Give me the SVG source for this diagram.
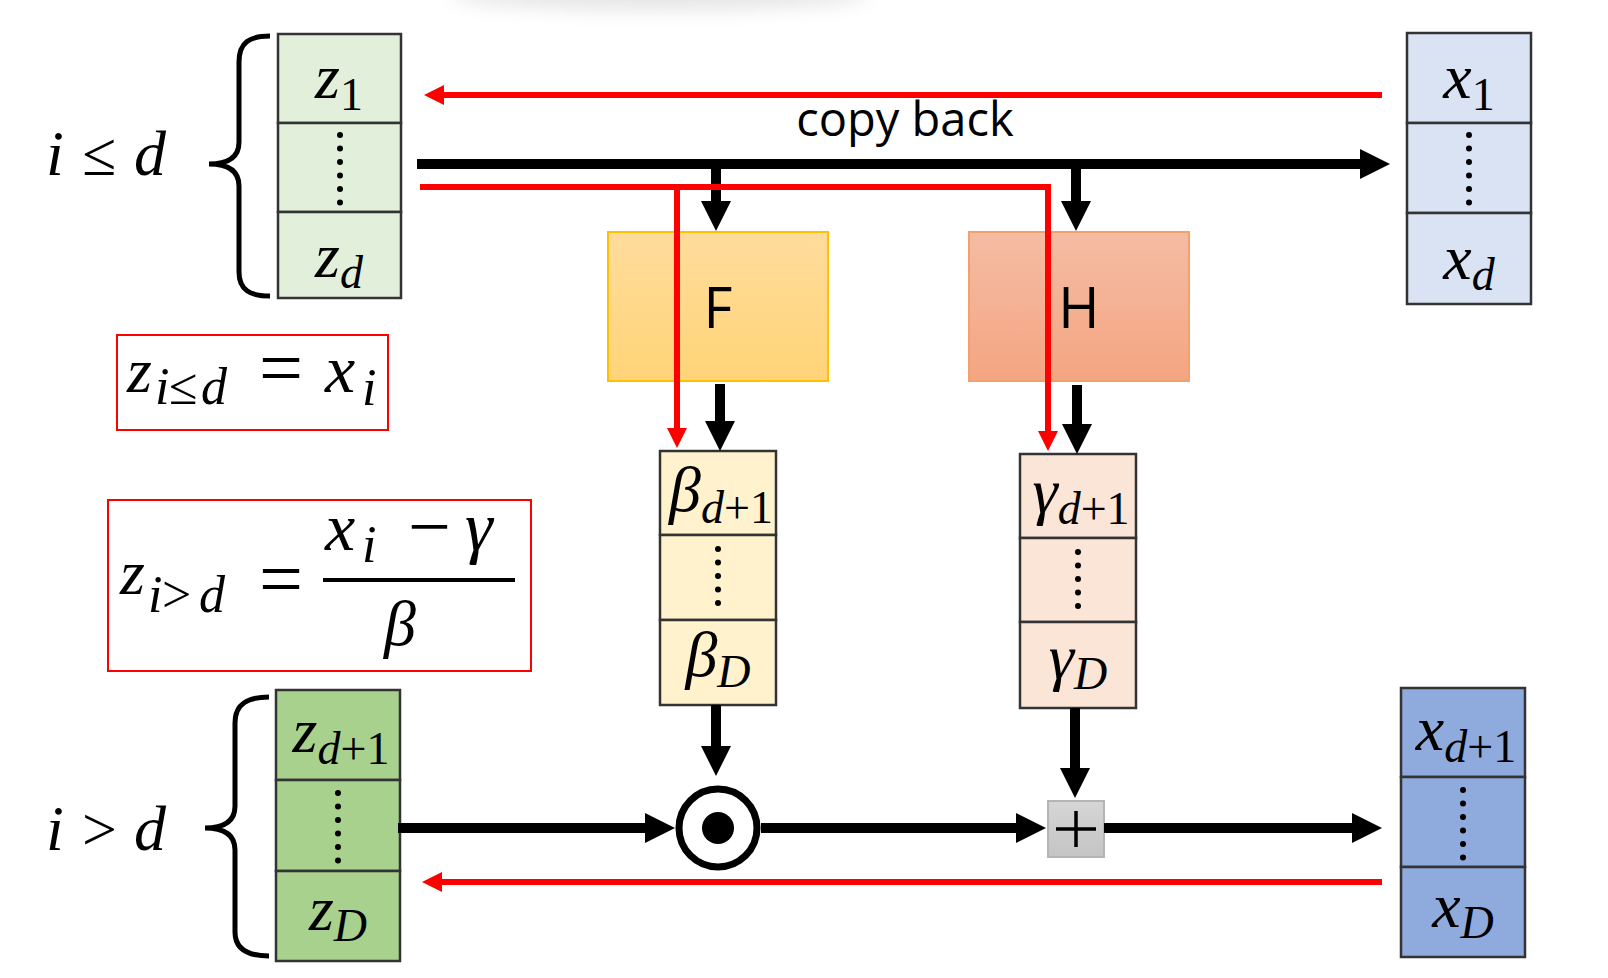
<svg xmlns="http://www.w3.org/2000/svg" width="1608" height="978" viewBox="0 0 1608 978">
<defs>
<style>
.cell{stroke:#333;stroke-width:2.5}
.m{font-family:"Liberation Serif",serif;font-style:italic;font-size:64px;fill:#000}
.s{font-size:46px}
.e{font-size:52px}
.up{font-style:normal}
.blk{stroke:#000;stroke-width:10;fill:none}
.red{stroke:#f00;stroke-width:6;fill:none}
.dots{stroke:#000;stroke-width:6;stroke-linecap:round;stroke-dasharray:0 13.5;fill:none}
.lbl{font-family:"Open Sans",sans-serif;fill:#000}
.brace{fill:none;stroke:#000;stroke-width:5}
.frame{fill:#fff;stroke:#f00;stroke-width:2}
</style>
<linearGradient id="gF" x1="0" y1="0" x2="0" y2="1"><stop offset="0" stop-color="#FFDC9C"/><stop offset="1" stop-color="#FFD478"/></linearGradient>
<linearGradient id="gH" x1="0" y1="0" x2="0" y2="1"><stop offset="0" stop-color="#F5BCA3"/><stop offset="1" stop-color="#F4A582"/></linearGradient>
<linearGradient id="gP" x1="0" y1="0" x2="0" y2="1"><stop offset="0" stop-color="#D6D6D6"/><stop offset="1" stop-color="#C4C4C4"/></linearGradient>
<filter id="blur" x="-50%" y="-50%" width="200%" height="200%"><feGaussianBlur stdDeviation="10"/></filter>
<marker id="ab" markerUnits="userSpaceOnUse" markerWidth="30" markerHeight="30" refX="5" refY="15" orient="auto"><path d="M0,0 L30,15 L0,30 z" fill="#000"/></marker>
<marker id="ar" markerUnits="userSpaceOnUse" markerWidth="20" markerHeight="20" refX="4" refY="10" orient="auto"><path d="M0,0 L20,10 L0,20 z" fill="#f00"/></marker>
</defs>
<rect width="1608" height="978" fill="#fff"/>
<ellipse cx="660" cy="-6" rx="210" ry="16" fill="#000" opacity="0.10" filter="url(#blur)"/>

<g id="brace-upper">
<path class="brace" d="M270,36 C250,36 239,42 239,62 L239,142 C239,157 228,164 209,164 C228,164 239,171 239,186 L239,272 C239,290 250,296 270,296"/>
<text class="m" y="175" font-size="52"><tspan x="46">i</tspan><tspan class="up" x="82" font-size="62">≤</tspan><tspan x="134">d</tspan></text>
</g>

<g id="z-upper">
<rect class="cell" x="278" y="34" width="123" height="89" fill="#E2EFDA"/>
<rect class="cell" x="278" y="123" width="123" height="89" fill="#E2EFDA"/>
<rect class="cell" x="278" y="212" width="123" height="86" fill="#E2EFDA"/>
<text class="m" x="339" y="98" text-anchor="middle">z<tspan class="s up" dy="12">1</tspan></text>
<line class="dots" x1="340" y1="135" x2="340" y2="203"/>
<text class="m" x="339" y="277" text-anchor="middle">z<tspan class="s" dy="11">d</tspan></text>
</g>

<g id="x-upper">
<rect class="cell" x="1407" y="33" width="124" height="90" fill="#DAE3F3"/>
<rect class="cell" x="1407" y="123" width="124" height="90" fill="#DAE3F3"/>
<rect class="cell" x="1407" y="213" width="124" height="91" fill="#DAE3F3"/>
<text class="m" x="1469" y="98" text-anchor="middle">x<tspan class="s up" dy="12">1</tspan></text>
<line class="dots" x1="1469" y1="135" x2="1469" y2="203"/>
<text class="m" x="1469" y="279" text-anchor="middle">x<tspan class="s" dy="11">d</tspan></text>
</g>

<g id="eq1">
<rect class="frame" x="117" y="335" width="271" height="95"/>
<text class="m"><tspan x="127" y="392">z</tspan><tspan class="e" x="155" y="404">i</tspan><tspan class="e up" x="169" y="404" font-size="56">≤</tspan><tspan class="e" x="201" y="404">d</tspan><tspan class="up" x="259" y="394" font-size="78">=</tspan><tspan x="325" y="392" font-size="68">x</tspan><tspan class="e" x="362" y="405">i</tspan></text>
</g>

<g id="eq2">
<rect class="frame" x="108" y="500" width="423" height="171"/>
<text class="m"><tspan x="120" y="594">z</tspan><tspan class="e" x="148" y="612">i</tspan><tspan class="e up" x="162" y="612" font-size="58">&gt;</tspan><tspan class="e" x="199" y="612">d</tspan><tspan class="up" x="259" y="605" font-size="78">=</tspan><tspan x="325" y="550" font-size="68">x</tspan><tspan class="e" x="362" y="562">i</tspan><tspan class="up" x="408" y="552" font-size="76">−</tspan><tspan x="465" y="550" font-size="70">γ</tspan></text>
<line x1="323" y1="580" x2="515" y2="580" stroke="#000" stroke-width="4"/>
<text class="m" x="400" y="645" text-anchor="middle" font-size="70">β</text>
</g>

<g id="F">
<rect x="608" y="232" width="220" height="149" fill="url(#gF)" stroke="#FFC000" stroke-width="2"/>
<text class="lbl" x="718" y="328" font-size="56" text-anchor="middle">F</text>
</g>

<g id="H">
<rect x="969" y="232" width="220" height="149" fill="url(#gH)" stroke="#F4A06A" stroke-width="2"/>
<text class="lbl" x="1079" y="328" font-size="56" text-anchor="middle">H</text>
</g>

<g id="beta">
<rect class="cell" x="660" y="451" width="116" height="84" fill="#FFF2CC"/>
<rect class="cell" x="660" y="535" width="116" height="85" fill="#FFF2CC"/>
<rect class="cell" x="660" y="620" width="116" height="85" fill="#FFF2CC"/>
<text class="m" x="721" y="511" text-anchor="middle">β<tspan class="s" dy="12">d<tspan class="up">+1</tspan></tspan></text>
<line class="dots" x1="718" y1="549" x2="718" y2="611"/>
<text class="m" x="718" y="676" text-anchor="middle">β<tspan class="s" dy="11">D</tspan></text>
</g>

<g id="gamma">
<rect class="cell" x="1020" y="454" width="116" height="84" fill="#FBE5D6"/>
<rect class="cell" x="1020" y="538" width="116" height="84" fill="#FBE5D6"/>
<rect class="cell" x="1020" y="622" width="116" height="86" fill="#FBE5D6"/>
<text class="m" x="1081" y="512" text-anchor="middle">γ<tspan class="s" dy="12">d<tspan class="up">+1</tspan></tspan></text>
<line class="dots" x1="1078" y1="552" x2="1078" y2="614"/>
<text class="m" x="1078" y="678" text-anchor="middle">γ<tspan class="s" dy="11">D</tspan></text>
</g>

<g id="brace-lower">
<path class="brace" d="M269,697 C249,697 235,703 235,723 L235,806 C235,821 224,828 205,828 C224,828 235,835 235,850 L235,932 C235,950 249,956 269,956"/>
<text class="m" y="850" font-size="52"><tspan x="46">i</tspan><tspan class="up" x="82" font-size="62">&gt;</tspan><tspan x="134">d</tspan></text>
</g>

<g id="z-lower">
<rect class="cell" x="276" y="690" width="124" height="90" fill="#A9D18E"/>
<rect class="cell" x="276" y="780" width="124" height="91" fill="#A9D18E"/>
<rect class="cell" x="276" y="871" width="124" height="90" fill="#A9D18E"/>
<text class="m" x="341" y="752" text-anchor="middle">z<tspan class="s" dy="12">d<tspan class="up">+1</tspan></tspan></text>
<line class="dots" x1="338" y1="793" x2="338" y2="861"/>
<text class="m" x="338" y="930" text-anchor="middle">z<tspan class="s" dy="11">D</tspan></text>
</g>

<g id="x-lower">
<rect class="cell" x="1401" y="688" width="124" height="89" fill="#8FAADC"/>
<rect class="cell" x="1401" y="777" width="124" height="90" fill="#8FAADC"/>
<rect class="cell" x="1401" y="867" width="124" height="90" fill="#8FAADC"/>
<text class="m" x="1466" y="750" text-anchor="middle">x<tspan class="s" dy="12">d<tspan class="up">+1</tspan></tspan></text>
<line class="dots" x1="1463" y1="790" x2="1463" y2="858"/>
<text class="m" x="1463" y="927" text-anchor="middle">x<tspan class="s" dy="11">D</tspan></text>
</g>

<g id="odot">
<circle cx="718" cy="828" r="39" fill="#fff" stroke="#000" stroke-width="7"/>
<circle cx="718" cy="828" r="16" fill="#000"/>
</g>

<g id="plus">
<rect x="1048" y="801" width="56" height="56" fill="url(#gP)" stroke="#B5B5B5" stroke-width="2"/>
<path d="M1076,811 V847 M1056,829 H1096" stroke="#000" stroke-width="3.5" fill="none"/>
</g>

<g id="copy-back">
<text class="lbl" x="905" y="136" font-size="47" text-anchor="middle">copy back</text>
</g>

<g id="connectors">
<path class="red" d="M1382,95 H440" marker-end="url(#ar)"/>
<path class="blk" d="M417,164 H1365" marker-end="url(#ab)"/>
<path class="blk" d="M716,164 V206" marker-end="url(#ab)"/>
<path class="blk" d="M1076,164 V206" marker-end="url(#ab)"/>
<path class="red" d="M420,187 H1048 V435" marker-end="url(#ar)"/>
<path class="red" d="M677,187 V432" marker-end="url(#ar)"/>
<path class="blk" d="M720,384 V426" marker-end="url(#ab)"/>
<path class="blk" d="M1077,385 V429" marker-end="url(#ab)"/>
<path class="blk" d="M716,705 V751" marker-end="url(#ab)"/>
<path class="blk" d="M1075,708 V773" marker-end="url(#ab)"/>
<path class="blk" d="M398,828 H650" marker-end="url(#ab)"/>
<path class="blk" d="M761,828 H1021" marker-end="url(#ab)"/>
<path class="blk" d="M1104,828 H1357" marker-end="url(#ab)"/>
<path class="red" d="M1382,882 H438" marker-end="url(#ar)"/>
</g>
</svg>
